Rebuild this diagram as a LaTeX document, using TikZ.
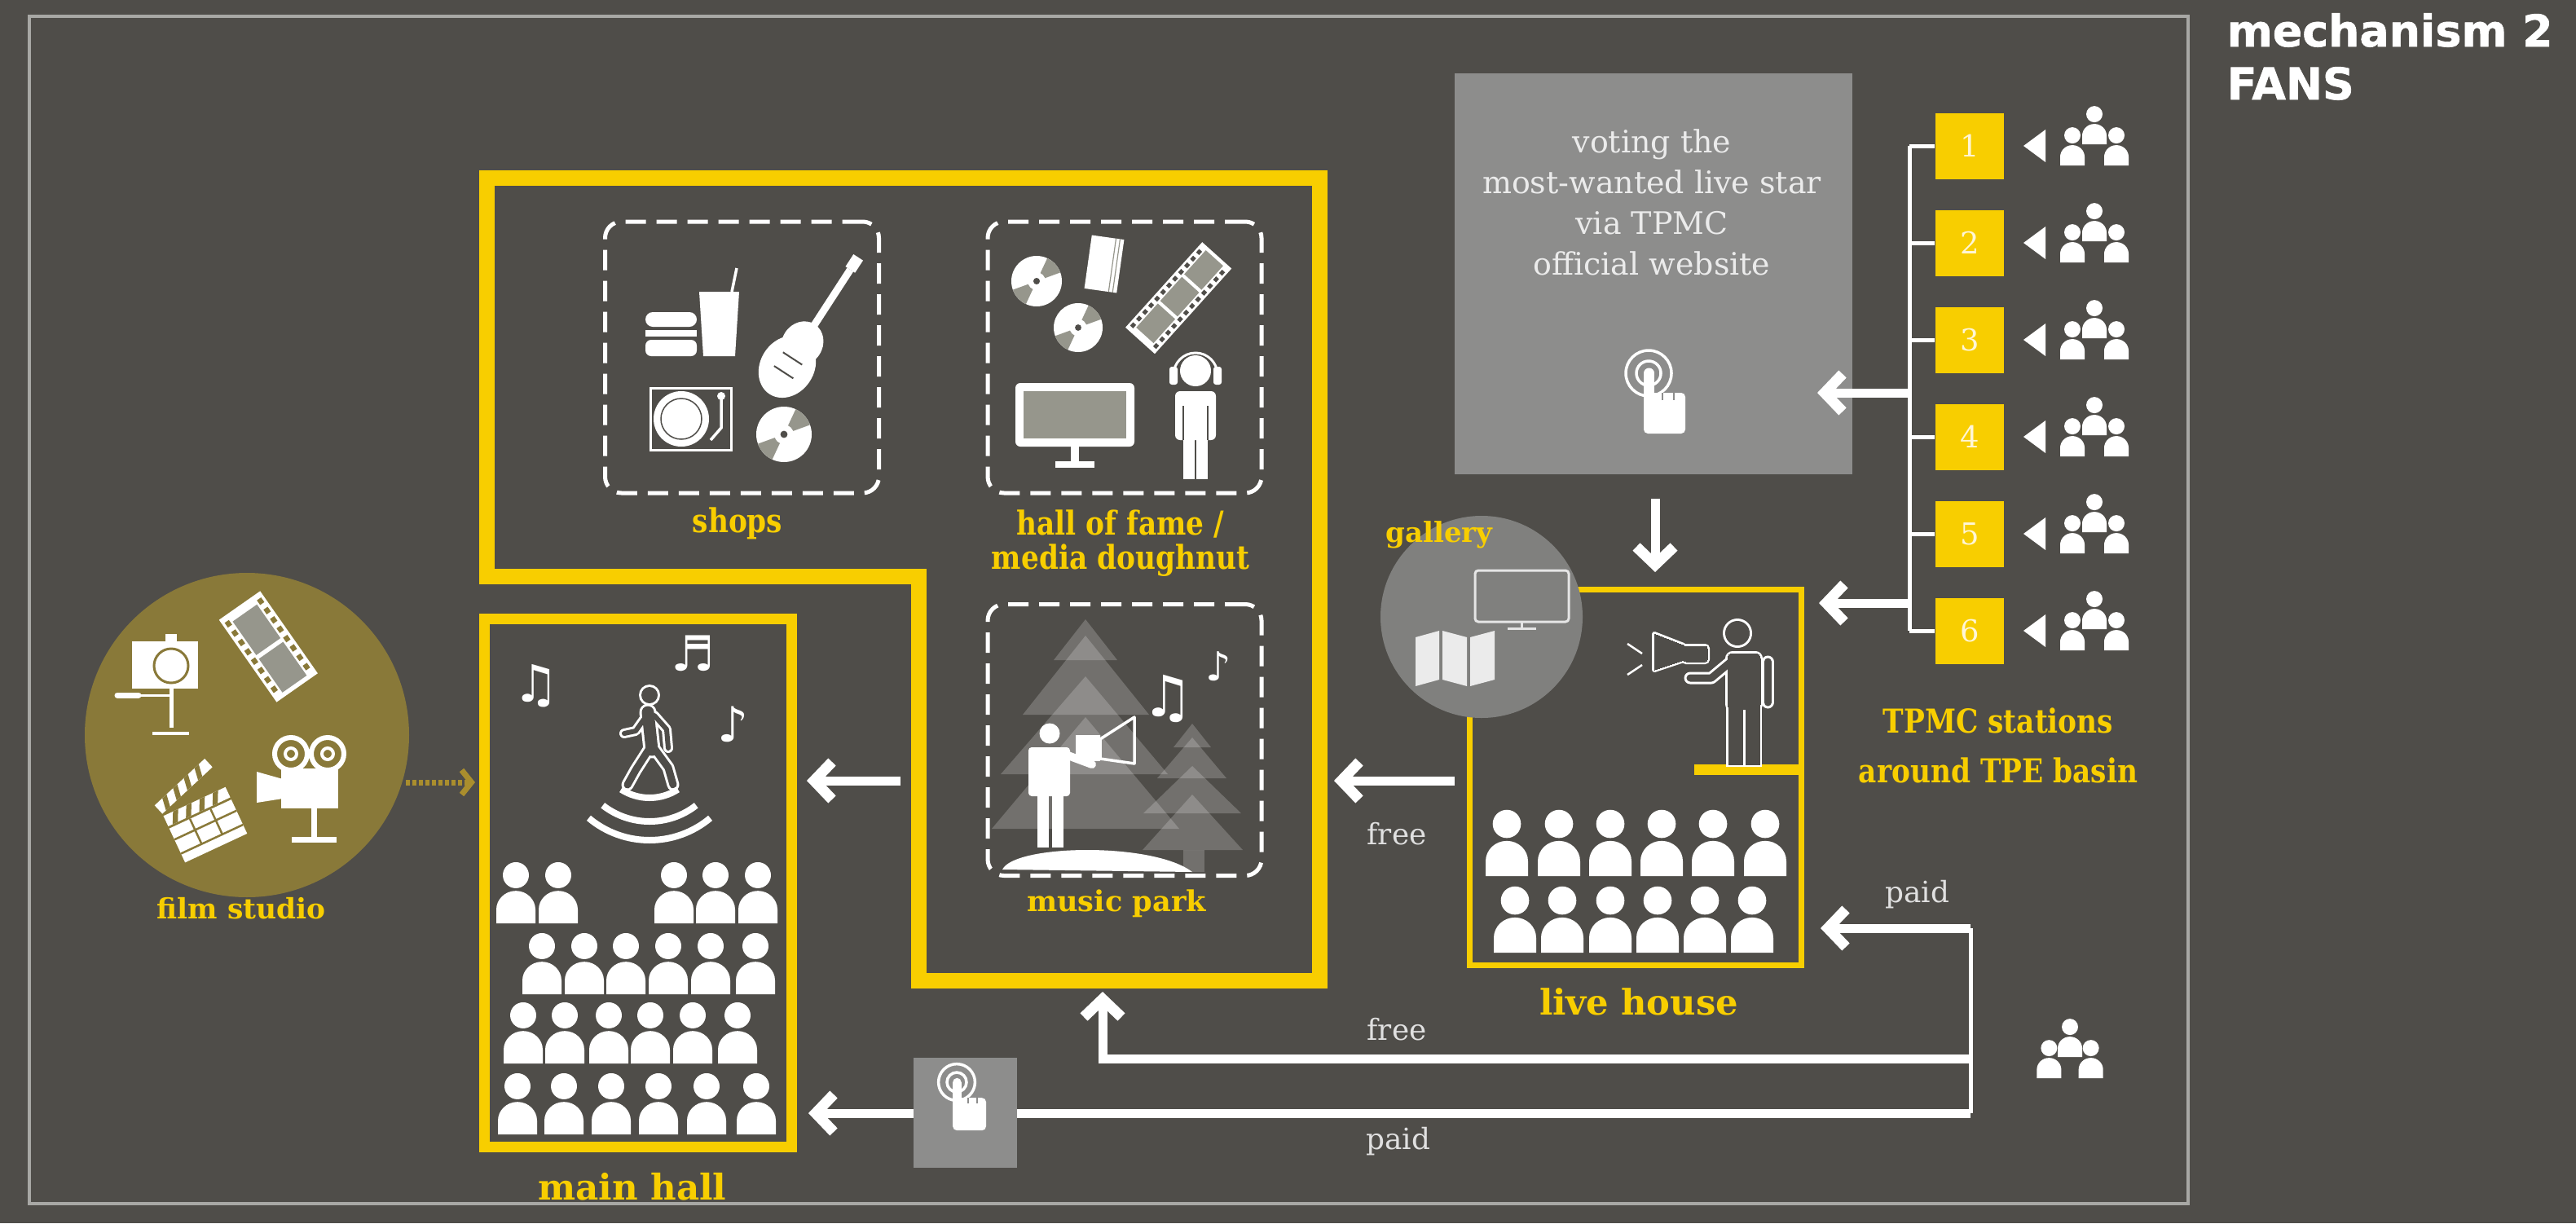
\documentclass[tikz,border=0pt]{standalone}
\usepackage{fontspec}
\setmainfont{DejaVu Serif}
\newfontfamily\headfont{DejaVu Sans}[FakeBold=1.2]
\newfontfamily\slabcond{DejaVu Serif}[FakeStretch=0.85]
\newfontfamily\notefont{DejaVu Sans}
\usepackage{tikz}
\usetikzlibrary{arrows.meta, positioning}
\definecolor{BgGray}{RGB}{79,77,73}
\definecolor{FrameGray}{RGB}{168,168,165}
\definecolor{TpmcYellow}{RGB}{248,206,0}
\definecolor{StudioOlive}{RGB}{137,121,57}
\definecolor{ArrowOlive}{RGB}{170,142,45}
\definecolor{PanelGray}{RGB}{141,141,140}
\definecolor{GalleryGray}{RGB}{128,128,126}
\definecolor{FilmGray}{RGB}{150,150,140}
\definecolor{NumberWhite}{RGB}{255,246,214}
\colorlet{filmhole}{BgGray}

\tikzset{
  fan/.pic={
    \fill (0,1.23) circle (0.333);
    \fill (-0.5,0) -- (-0.5,0.35) arc[start angle=180, end angle=0, x radius=0.5, y radius=0.48] -- (0.5,0) -- cycle;
  },
  fans3/.pic={
    \pic[scale=0.3] at (0,0.26) {fan};
    \pic[scale=0.3] at (-0.27,0) {fan};
    \pic[scale=0.3] at (0.27,0) {fan};
  },
  touch/.pic={
    \draw[line width=0.035cm] (0,0) circle (0.28);
    \draw[line width=0.035cm] (0,0) circle (0.15);
    \fill (0.005,0) circle (0.065);
    \fill (-0.06,0) rectangle (0.07,-0.30);
    \fill[rounded corners=0.05cm] (-0.06,-0.24) rectangle (0.45,-0.74);
    \draw[PanelGray, line width=0.02cm] (0.17,-0.24) -- (0.17,-0.33) (0.31,-0.24) -- (0.31,-0.33);
  },
  disc/.pic={
    \fill (0,0) circle (1);
    \fill[FilmGray] (0,0) -- (200:1) arc[start angle=200, end angle=245, radius=1] -- cycle;
    \fill[FilmGray] (0,0) -- (20:1) arc[start angle=20, end angle=65, radius=1] -- cycle;
    \fill[white] (0,0) circle (0.35);
    \fill[BgGray] (0,0) circle (0.13);
  },
  filmstrip/.pic={
    \pgfmathsetmacro\stripend{#1*0.4+0.08}
    \pgfmathsetmacro\holeend{#1*0.4-0.02}
    \fill[white] (0,-0.22) rectangle (\stripend,0.22);
    \foreach \k in {1,...,#1}
      \fill[FilmGray] ({\k*0.4-0.32},-0.13) rectangle ({\k*0.4+0.04},0.13);
    \foreach \h in {0.05,0.15,...,\holeend}{
      \fill[filmhole] (\h,0.15) rectangle ++(0.05,0.045);
      \fill[filmhole] (\h,-0.15) rectangle ++(0.05,-0.045);
    }
  },
  titletext/.style={text=white, inner sep=0, anchor=base west, font=\headfont\bfseries\fontsize{15.3}{18}\selectfont},
  yellowtag/.style={text=TpmcYellow, inner sep=0, anchor=base, font=\bfseries\fontsize{#1}{#1}\selectfont},
  condtag/.style={text=TpmcYellow, inner sep=0, anchor=base, font=\slabcond\bfseries\fontsize{11.5}{13}\selectfont},
  pathnote/.style={text=white!88!black, inner sep=0, anchor=base, font=\fontsize{10.2}{12}\selectfont},
  zonebox/.style={draw=white, line width=0.05cm, dash pattern=on 0.25cm off 0.13cm, rounded corners=0.2cm,
    minimum width=3.36cm, minimum height=3.33cm, inner sep=0},
  stationbox/.style={fill=TpmcYellow, minimum width=0.84cm, minimum height=0.81cm, inner sep=0,
    text=NumberWhite, font=\fontsize{10.5}{10.5}\selectfont},
  railline/.style={white, line width=0.05cm},
  fanflow/.style={white, line width=0.11cm,
    -{Straight Barb[length=0.22cm, width=0.46cm, line width=0.13cm, line cap=butt, line join=miter]}},
  musicnote/.style={text=white, inner sep=0, font=\notefont\fontsize{#1}{#1}\selectfont},
}

% outlined figures: first call wide in white, second call narrow in the background colour
\newcommand\walker[2]{%
  \fill[#1] (7.97,-8.53) circle[radius=0.10cm+#2/2];
  \draw[#1, line width=0.15cm+#2, line cap=round] (7.95,-8.74) -- (8.00,-9.20);
  \draw[#1, line width=0.06cm+#2, line cap=round, line join=round]
    (7.92,-8.80) -- (7.80,-8.97) -- (7.66,-9.00) (8.03,-8.78) -- (8.18,-8.95) -- (8.20,-9.18);
  \draw[#1, line width=0.09cm+#2, line cap=round, line join=round]
    (7.96,-9.20) -- (7.80,-9.45) -- (7.70,-9.63) (8.04,-9.20) -- (8.20,-9.42) -- (8.26,-9.63);
}
\newcommand\speaker[2]{%
  \fill[#1] (21.32,-7.77) circle[radius=0.15cm+#2/2];
  \filldraw[#1, line width=#2, rounded corners=0.06cm] (21.20,-8.02) rectangle (21.60,-8.70);
  \filldraw[#1, line width=#2] (21.21,-8.62) rectangle (21.38,-9.38);
  \filldraw[#1, line width=#2] (21.42,-8.62) rectangle (21.59,-9.38);
  \draw[#1, line width=0.09cm+#2, line cap=round] (21.69,-8.12) -- (21.69,-8.62);
  \draw[#1, line width=0.09cm+#2, line cap=round, line join=round] (21.24,-8.12) -- (21.00,-8.32) -- (20.74,-8.32);
  \filldraw[#1, line width=#2, line join=round] (20.30,-7.78) -- (20.66,-7.92) -- (20.66,-8.10) -- (20.30,-8.22) -- cycle;
  \filldraw[#1, line width=#2, rounded corners=0.03cm] (20.66,-7.93) rectangle (20.95,-8.12);
}

\begin{document}
\begin{tikzpicture}[x=1cm, y=1cm]
  % canvas and frame
  \fill[BgGray] (0,0) rectangle (31.61,-15.01);
  \draw[FrameGray, line width=0.035cm] (0.36,-0.20) rectangle (26.85,-14.77);

  % heading
  \node[titletext] (title1) at (27.32,-0.57) {mechanism 2};
  \node[titletext] (title2) at (27.32,-1.22) {FANS};

  % voting panel
  \node[fill=PanelGray, minimum width=4.88cm, minimum height=4.92cm, inner sep=0] (vote) at (20.29,-3.36) {};
  \node[align=center, text=white!92!black, inner sep=0, font=\fontsize{10.8}{14.2}\selectfont] (votetext)
    at (20.27,-2.48) {voting the\\most-wanted live star\\via TPMC\\official website};
  \pic[white] at (20.23,-4.58) {touch};

  % TPMC stations
  \foreach \n in {1,...,6}{
    \pgfmathsetmacro\yc{-1.79-1.19*(\n-1)}
    \node[stationbox] (st\n) at (24.17,\yc) {\n};
    \draw[railline] (23.43,\yc) -- (st\n.west);
    \fill[white] (24.83,\yc) -- ++(0.27,0.2) -- ++(0,-0.4) -- cycle;
    \pic[white] at (25.70,\yc-0.24) {fans3};
  }
  \draw[railline] (23.43,-1.79) coordinate (railtop) -- (railtop |- st6.west);
  \coordinate (railvote) at (23.43,-4.82);
  \coordinate (raillive) at (23.43,-7.40);
  \coordinate (voteIn) at (22.30,-4.82);
  \coordinate (liveSide) at (22.32,-7.40);
  \node[condtag] (stationlabel1) at (24.52,-8.99) {TPMC stations};
  \node[condtag] (stationlabel2) at (24.52,-9.60) {around TPE basin};

  % complex outline: shops, hall of fame, music park
  \draw[TpmcYellow, line width=0.19cm] (5.97,-2.18) -- (16.19,-2.18) -- (16.19,-12.03) -- (11.27,-12.03)
    -- (11.27,-7.07) -- (5.97,-7.07) -- cycle;
  \node[zonebox] (shops) at (9.105,-4.385) {};
  \node[zonebox] (fame) at (13.80,-4.385) {};
  \node[zonebox] (park) at (13.80,-9.08) {};
  \node[condtag] (shopslabel) at (9.05,-6.53) {shops};
  \node[condtag] (famelabel1) at (13.75,-6.56) {hall of fame /};
  \node[condtag] (famelabel2) at (13.75,-6.98) {media doughnut};
  \node[yellowtag=10] (parklabel) at (13.70,-11.18) {music park};

  % shops: burger, drink, guitar, turntable, disc
  \fill[white, rounded corners=0.09cm] (7.92,-3.83) rectangle (8.55,-4.01);
  \fill[white] (7.92,-4.05) rectangle (8.55,-4.13);
  \fill[white, rounded corners=0.07cm] (7.92,-4.17) rectangle (8.55,-4.37);
  \fill[white] (8.58,-3.58) -- (9.07,-3.58) -- (9.02,-4.37) -- (8.63,-4.37) -- cycle;
  \draw[white, line width=0.035cm] (8.98,-3.58) -- (9.04,-3.29);
  \begin{scope}[shift={(9.66,-4.50)}, rotate=57]
    \fill[white] (0,0) ellipse (0.40 and 0.33);
    \fill[white] (0.34,0) ellipse (0.28 and 0.25);
    \fill[white] (0.50,-0.045) rectangle (1.42,0.045);
    \fill[white] (1.42,-0.07) rectangle (1.60,0.07);
    \draw[BgGray, line width=0.02cm] (-0.08,-0.14) -- (-0.08,0.14) (0.12,-0.14) -- (0.12,0.14);
  \end{scope}
  \draw[white, line width=0.03cm] (7.98,-4.76) rectangle (8.97,-5.52);
  \fill[white] (8.36,-5.14) circle (0.34);
  \draw[BgGray, line width=0.015cm] (8.36,-5.14) circle (0.25);
  \draw[white, line width=0.035cm] (8.85,-4.86) -- (8.85,-5.25) -- (8.72,-5.40);
  \fill[white] (8.85,-4.86) circle (0.05);
  \pic[white, scale=0.34] at (9.62,-5.33) {disc};

  % hall of fame: discs, books, film, monitor, listener
  \pic[white, scale=0.31] at (12.72,-3.45) {disc};
  \pic[white, scale=0.30] at (13.23,-4.02) {disc};
  \begin{scope}[shift={(13.55,-3.24)}, rotate=-8]
    \fill[white] (-0.20,-0.33) rectangle (0.20,0.33);
    \draw[FilmGray, line width=0.012cm] (0.10,-0.33) -- (0.10,0.33) (0.15,-0.33) -- (0.15,0.33);
  \end{scope}
  \pic[scale=1.1, rotate=48] at (13.99,-4.18) {filmstrip=3};
  \fill[white, rounded corners=0.06cm] (12.46,-4.70) rectangle (13.92,-5.48);
  \fill[FilmGray] (12.56,-4.80) rectangle (13.82,-5.38);
  \fill[white] (13.14,-5.48) rectangle (13.24,-5.68);
  \fill[white] (12.95,-5.66) rectangle (13.43,-5.74);
  \fill[white] (14.67,-4.55) circle (0.19);
  \draw[white, line width=0.03cm] (14.40,-4.60) arc[start angle=180, end angle=0, radius=0.27];
  \fill[white, rounded corners=0.03cm] (14.35,-4.50) rectangle (14.45,-4.72);
  \fill[white, rounded corners=0.03cm] (14.89,-4.50) rectangle (14.99,-4.72);
  \fill[white, rounded corners=0.06cm] (14.42,-4.80) rectangle (14.92,-5.40);
  \fill[white] (14.52,-5.30) rectangle (14.66,-5.88);
  \fill[white] (14.68,-5.30) rectangle (14.82,-5.88);
  \draw[BgGray, line width=0.025cm] (14.52,-4.98) -- (14.52,-5.40) (14.82,-4.98) -- (14.82,-5.40);

  % music park: trees, singer, notes, hill
  \begin{scope}[fill=white, fill opacity=0.2]
    \fill (13.32,-7.60) -- (12.93,-8.10) -- (13.71,-8.10) -- cycle;
    \fill (13.32,-7.80) -- (12.55,-8.77) -- (14.10,-8.77) -- cycle;
    \fill (13.32,-8.30) -- (12.28,-9.50) -- (14.33,-9.50) -- cycle;
    \fill (13.32,-8.80) -- (12.17,-10.17) -- (14.47,-10.17) -- cycle;
    \fill (14.63,-8.88) -- (14.40,-9.17) -- (14.86,-9.17) -- cycle;
    \fill (14.63,-9.05) -- (14.20,-9.55) -- (15.05,-9.55) -- cycle;
    \fill (14.63,-9.40) -- (14.03,-9.98) -- (15.23,-9.98) -- cycle;
    \fill (14.63,-9.75) -- (14.02,-10.43) -- (15.25,-10.43) -- cycle;
    \fill (14.52,-10.43) rectangle (14.78,-10.70);
  \end{scope}
  \fill[white] (12.30,-10.67) .. controls (12.45,-10.36) and (14.15,-10.33) .. (14.63,-10.70) -- cycle;
  \fill[white] (12.88,-9.00) circle (0.125);
  \fill[white, rounded corners=0.04cm] (12.62,-9.17) rectangle (13.13,-9.77);
  \fill[white] (12.73,-9.70) rectangle (12.87,-10.40);
  \fill[white] (12.91,-9.70) rectangle (13.05,-10.40);
  \draw[white, line width=0.1cm, line cap=round] (13.05,-9.25) -- (13.40,-9.38);
  \fill[white] (13.20,-9.02) rectangle (13.50,-9.34);
  \draw[white, line width=0.035cm, line join=round] (13.50,-9.07) -- (13.92,-8.80) -- (13.92,-9.37) -- (13.50,-9.31) -- cycle;
  \node[musicnote=20] (parknote1) at (14.33,-8.57) {♫};
  \node[musicnote=14] (parknote2) at (14.95,-8.18) {♪};

  % main hall
  \node[draw=TpmcYellow, line width=0.13cm, minimum width=3.77cm, minimum height=6.48cm, inner sep=0] (hall) at (7.83,-10.83) {};
  \node[yellowtag=12.4] (halllabel) at (7.76,-14.72) {main hall};
  \node[musicnote=18] (hallnote1) at (6.58,-8.42) {♫};
  \node[musicnote=17] (hallnote2) at (8.50,-8.02) {♬};
  \node[musicnote=17] (hallnote3) at (9.00,-8.89) {♪};
  \walker{white}{0.06cm}
  \walker{BgGray}{0cm}
  \draw[white, line width=0.08cm] (7.97,-9.15) ++(237:0.64) arc[start angle=237, end angle=303, radius=0.64];
  \draw[white, line width=0.08cm] (7.97,-9.15) ++(232:0.93) arc[start angle=232, end angle=308, radius=0.93];
  \draw[white, line width=0.08cm] (7.97,-9.15) ++(230:1.16) arc[start angle=230, end angle=310, radius=1.16];
  \foreach \x in {6.33,6.85,8.27,8.78,9.30} \pic[white, scale=0.48] at (\x,-11.33) {fan};
  \foreach \x in {6.65,7.17,7.68,8.20,8.72,9.27} \pic[white, scale=0.48] at (\x,-12.20) {fan};
  \foreach \x in {6.42,6.93,7.47,7.98,8.50,9.05} \pic[white, scale=0.48] at (\x,-13.05) {fan};
  \foreach \x in {6.35,6.92,7.50,8.08,8.67,9.28} \pic[white, scale=0.48] at (\x,-13.92) {fan};

  % film studio
  \node[circle, fill=StudioOlive, minimum size=3.98cm, inner sep=0] (studio) at (3.03,-9.02) {};
  \node[yellowtag=9.8] (studiolabel) at (2.96,-11.27) {film studio};
  \fill[white] (1.62,-7.87) rectangle (2.43,-8.45);
  \fill[white] (2.03,-7.78) rectangle (2.17,-7.90);
  \draw[StudioOlive, line width=0.03cm] (2.10,-8.17) circle (0.21);
  \draw[white, line width=0.05cm] (2.10,-8.45) -- (2.10,-8.93);
  \draw[white, line width=0.045cm] (1.87,-9.00) -- (2.32,-9.00);
  \draw[white, line width=0.07cm, line cap=round] (1.44,-8.53) -- (1.70,-8.53);
  \draw[white, line width=0.03cm] (1.70,-8.53) -- (2.10,-8.53);
  \colorlet{filmhole}{StudioOlive}
  \pic[scale=1.4, rotate=-55] at (2.94,-7.43) {filmstrip=2};
  \begin{scope}[shift={(2.50,-10.08)}, rotate=25]
    \fill[white] (-0.42,-0.36) rectangle (0.42,0.10);
    \draw[StudioOlive, line width=0.025cm] (-0.42,-0.05) -- (0.42,-0.05) (-0.42,-0.24) -- (0.42,-0.24)
      (-0.14,0.10) -- (-0.14,-0.24) (0.14,0.10) -- (0.14,-0.24);
    \fill[white] (-0.42,0.13) rectangle (0.42,0.27);
    \foreach \s in {-0.36,-0.18,...,0.30}
      \fill[StudioOlive] (\s,0.13) -- ++(0.07,0) -- ++(0.07,0.14) -- ++(-0.07,0) -- cycle;
    \begin{scope}[rotate around={18:(-0.42,0.30)}]
      \fill[white] (-0.42,0.30) rectangle (0.42,0.44);
      \foreach \s in {-0.36,-0.18,...,0.30}
        \fill[StudioOlive] (\s,0.30) -- ++(0.07,0) -- ++(0.07,0.14) -- ++(-0.07,0) -- cycle;
    \end{scope}
  \end{scope}
  \draw[white, line width=0.06cm] (3.57,-9.25) circle (0.20) (4.02,-9.25) circle (0.20);
  \draw[white, line width=0.04cm] (3.57,-9.25) circle (0.07) (4.02,-9.25) circle (0.07);
  \fill[white] (3.45,-9.43) rectangle (4.15,-9.92);
  \fill[white] (3.15,-9.47) -- (3.47,-9.56) -- (3.47,-9.80) -- (3.15,-9.85) -- cycle;
  \draw[white, line width=0.07cm] (3.85,-9.92) -- (3.85,-10.28);
  \draw[white, line width=0.07cm] (3.58,-10.30) -- (4.13,-10.30);

  % live house with gallery
  \node[draw=TpmcYellow, line width=0.07cm, minimum width=4.07cm, minimum height=4.61cm, inner sep=0] (live) at (20.07,-9.54) {};
  \draw[TpmcYellow, line width=0.13cm] (20.79,-9.44) -- (22.07,-9.44);
  \speaker{white}{0.06cm}
  \speaker{BgGray}{0cm}
  \draw[white, line width=0.025cm] (19.97,-7.90) -- (20.15,-8.02) (19.97,-8.28) -- (20.15,-8.16);
  \foreach \x in {18.49,19.13,19.76,20.39,21.02,21.66} \pic[white, scale=0.52] at (\x,-10.75) {fan};
  \foreach \x in {18.59,19.17,19.76,20.34,20.92,21.50} \pic[white, scale=0.52] at (\x,-11.69) {fan};
  \node[yellowtag=12.3] (livelabel) at (20.11,-12.45) {live house};
  \node[circle, fill=GalleryGray, minimum size=2.48cm, inner sep=0] (gallery) at (18.18,-7.57) {};
  \node[yellowtag=9.7] (gallerylabel) at (17.66,-6.65) {gallery};
  \draw[white!90!black, line width=0.03cm, rounded corners=0.04cm] (18.10,-7.00) rectangle (19.25,-7.63);
  \draw[white!90!black, line width=0.03cm] (18.67,-7.63) -- (18.67,-7.71) (18.50,-7.71) -- (18.85,-7.71);
  \fill[white!92!black] (17.37,-7.82) -- (17.66,-7.74) -- (17.66,-8.34) -- (17.37,-8.42) -- cycle;
  \fill[white!92!black] (17.70,-7.74) -- (18.00,-7.82) -- (18.00,-8.42) -- (17.70,-8.34) -- cycle;
  \fill[white!92!black] (18.04,-7.82) -- (18.34,-7.74) -- (18.34,-8.34) -- (18.04,-8.42) -- cycle;

  % flows between the venues
  \coordinate (voteOut) at (20.31,-6.12);
  \coordinate (liveTop) at (20.31,-7.02);
  \coordinate (liveOut) at (17.85,-9.58);
  \coordinate (parkIn) at (16.37,-9.58);
  \coordinate (parkOut) at (11.05,-9.58);
  \coordinate (hallIn) at (9.90,-9.58);
  \coordinate (studioOut) at (4.98,-9.60);
  \coordinate (hallSide) at (5.83,-9.60);
  \coordinate (paidBend) at (24.18,-11.39);
  \coordinate (freeBend) at (24.18,-12.99);
  \coordinate (fanJoin) at (24.18,-13.66);
  \coordinate (livePaid) at (22.34,-11.39);
  \coordinate (parkFree) at (13.53,-12.17);
  \coordinate (hallPaid) at (9.92,-13.66);

  \draw[fanflow] (railvote) -- (voteIn);
  \draw[fanflow] (raillive) -- (liveSide);
  \draw[fanflow] (voteOut) -- (liveTop);
  \draw[fanflow] (liveOut) -- (parkIn);
  \draw[fanflow] (parkOut) -- (hallIn);
  \draw[ArrowOlive, line width=0.07cm, dash pattern=on 0.05cm off 0.03cm,
    -{Straight Barb[length=0.12cm, width=0.3cm, line width=0.07cm, line cap=butt, line join=miter]}] (studioOut) -- (hallSide);
  \draw[railline] (paidBend) -- (fanJoin);
  \draw[fanflow] (paidBend) -- (livePaid);
  \draw[fanflow] (freeBend) -| (parkFree);
  \draw[fanflow] (fanJoin) -- (hallPaid);
  \node[fill=PanelGray, minimum width=1.27cm, minimum height=1.35cm, inner sep=0] (paybox) at (11.845,-13.655) {};
  \pic[white, scale=0.8] at (11.74,-13.28) {touch};
  \pic[white, xscale=0.95] at (25.40,-13.23) {fans3};

  \node[pathnote] (free1) at (17.14,-10.36) {free};
  \node[pathnote] (free2) at (17.14,-12.76) {free};
  \node[pathnote] (paid1) at (17.16,-14.10) {paid};
  \node[pathnote] (paid2) at (23.53,-11.07) {paid};
\end{tikzpicture}
\end{document}
